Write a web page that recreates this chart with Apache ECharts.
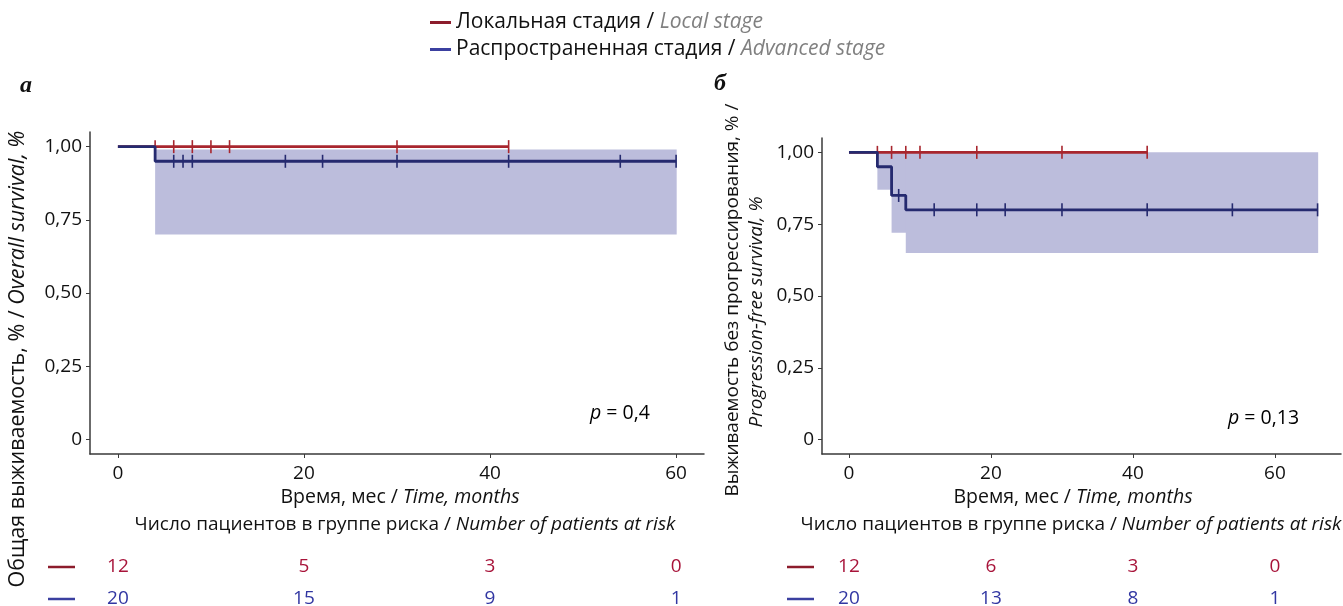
<!DOCTYPE html>
<html>
<head>
<meta charset="utf-8">
<script src="https://cdn.jsdelivr.net/npm/echarts@6/dist/echarts.min.js"></script>
<style>
  html, body { margin: 0; padding: 0; background: #fff; }
  #chart { width: 1343px; height: 606px; }
</style>
</head>
<body>
<div id="chart"></div>
<script>
// группы
var groupNames = ["Локальная стадия", "Распространенная стадия"];
var groupNamesEn = ["Local stage", "Advanced stage"];

// а — общая выживаемость
var osLocalTime = [0, 42];
var osLocalSurv = [1, 1];
var osLocalCens = [4, 6, 8, 10, 12, 30, 42];
var osAdvTime = [0, 4, 60];
var osAdvSurv = [1, 0.95, 0.95];
var osAdvCens = [6, 7, 8, 18, 22, 30, 42, 54, 60];
var osBandTime = [4, 60];
var osBandLow = [0.70, 0.70];
var osBandHigh = [0.99, 0.99];

// б — выживаемость без прогрессирования
var pfsLocalTime = [0, 42];
var pfsLocalSurv = [1, 1];
var pfsLocalCens = [4, 6, 8, 10, 18, 30, 42];
var pfsAdvTime = [0, 4, 6, 8, 66];
var pfsAdvSurv = [1, 0.95, 0.85, 0.80, 0.80];
var pfsAdvCens = [7, 12, 18, 22, 30, 42, 54, 66];
var pfsBandTime = [4, 6, 8, 66];
var pfsBandLow = [0.87, 0.72, 0.65, 0.65];
var pfsBandHigh = [1, 1, 1, 1];

// число пациентов в группе риска
var riskTimes = [0, 20, 40, 60];
var osRiskLocal = [12, 5, 3, 0];
var osRiskAdv = [20, 15, 9, 1];
var pfsRiskLocal = [12, 6, 3, 0];
var pfsRiskAdv = [20, 13, 8, 1];

var xTicks = [0, 20, 40, 60];
var yTicks = [0, 0.25, 0.5, 0.75, 1];

var FONT = "Open Sans";
var RED = "#a8262e", BLUE = "#252a6f", BAND = "#bcbddc";
var LEG_RED = "#8c1c2c", LEG_BLUE = "#3b40a0";
var RISK_RED = "#a8143a", RISK_BLUE = "#3136a2";
var GRAY = "#808080", AXIS = "#3a3a3a";

function zip(xs, ys) {
  return xs.map(function (x, i) { return [x, ys[i]]; });
}
function survAt(times, surv, t) {
  var v = surv[0];
  for (var i = 0; i < times.length; i++) if (times[i] <= t) v = surv[i];
  return v;
}
function censPoints(times, surv, cens) {
  return cens.map(function (t) { return [t, survAt(times, surv, t)]; });
}
// ступеньки доверительного интервала: [t0, t1, low, high]
function bandSteps(times, low, high) {
  var out = [];
  for (var i = 0; i < times.length - 1; i++) out.push([times[i], times[i + 1], low[i], high[i]]);
  return out;
}

function plotAxes(gi, xmin, xmax) {
  var x = {
    type: "value", gridIndex: gi, min: xmin, max: xmax,
    axisLine: { show: true, onZero: false, lineStyle: { color: AXIS, width: 1.5 } },
    axisTick: { show: true, customValues: xTicks, length: 4, lineStyle: { color: AXIS } },
    axisLabel: { customValues: xTicks, fontSize: 19, color: "#111", fontFamily: FONT, margin: 10 },
    splitLine: { show: false }
  };
  var y = {
    type: "value", gridIndex: gi, min: -0.05, max: 1.05,
    axisLine: { show: true, onZero: false, lineStyle: { color: AXIS, width: 1.5 } },
    axisTick: { show: true, customValues: yTicks, length: 4, lineStyle: { color: AXIS } },
    axisLabel: {
      customValues: yTicks, fontSize: 19, color: "#111", fontFamily: FONT, margin: 8,
      formatter: function (v) { return v === 0 ? "0" : v.toFixed(2).replace(".", ","); }
    },
    splitLine: { show: false }
  };
  return [x, y];
}
function riskAxes(gi, xmin, xmax) {
  return [
    { type: "value", gridIndex: gi, min: xmin, max: xmax, show: false },
    { type: "value", gridIndex: gi, min: 0, max: 2, show: false }
  ];
}

function kmSeries(ai, d) {
  var out = [];
  out.push({
    type: "custom", xAxisIndex: ai, yAxisIndex: ai, silent: true, z: 1,
    data: bandSteps(d.bandTime, d.bandLow, d.bandHigh),
    encode: { x: [0, 1], y: [2, 3] },
    renderItem: function (params, api) {
      var a = api.coord([api.value(0), api.value(3)]);
      var b = api.coord([api.value(1), api.value(2)]);
      return {
        type: "rect",
        shape: { x: a[0], y: a[1], width: b[0] - a[0] + 0.6, height: b[1] - a[1] },
        style: { fill: BAND }
      };
    }
  });
  out.push({
    name: groupNames[0], type: "line", xAxisIndex: ai, yAxisIndex: ai, step: "end", z: 3,
    data: zip(d.localTime, d.localSurv), symbol: "none", color: RED,
    lineStyle: { color: RED, width: 2.6 }
  });
  out.push({
    type: "scatter", xAxisIndex: ai, yAxisIndex: ai, z: 4, silent: true,
    data: censPoints(d.localTime, d.localSurv, d.localCens),
    symbol: "rect", symbolSize: [1.6, 13], itemStyle: { color: RED, opacity: 1 }
  });
  out.push({
    name: groupNames[1], type: "line", xAxisIndex: ai, yAxisIndex: ai, step: "end", z: 5,
    data: zip(d.advTime, d.advSurv), symbol: "none", color: BLUE,
    lineStyle: { color: BLUE, width: 2.8 }
  });
  out.push({
    type: "scatter", xAxisIndex: ai, yAxisIndex: ai, z: 6, silent: true,
    data: censPoints(d.advTime, d.advSurv, d.advCens),
    symbol: "rect", symbolSize: [1.6, 13], itemStyle: { color: BLUE, opacity: 1 }
  });
  return out;
}

function riskSeries(ai, local, adv) {
  function row(vals, yv, color) {
    return {
      type: "scatter", xAxisIndex: ai, yAxisIndex: ai, symbolSize: 0, silent: true,
      itemStyle: { opacity: 1 },
      data: riskTimes.map(function (t, i) { return [t, yv, vals[i]]; }),
      label: {
        show: true, position: "inside", color: color, fontSize: 19, fontFamily: FONT,
        opacity: 1, textBorderWidth: 0,
        formatter: function (p) { return String(p.value[2]); }
      }
    };
  }
  return [row(local, 1.5, RISK_RED), row(adv, 0.5, RISK_BLUE)];
}

var axA = plotAxes(0, -3, 63);
var axB = plotAxes(1, -3.8, 69.3);
var rkA = riskAxes(2, -3, 63);
var rkB = riskAxes(3, -3.8, 69.3);

var series = []
  .concat(kmSeries(0, {
    bandTime: osBandTime, bandLow: osBandLow, bandHigh: osBandHigh,
    localTime: osLocalTime, localSurv: osLocalSurv, localCens: osLocalCens,
    advTime: osAdvTime, advSurv: osAdvSurv, advCens: osAdvCens
  }))
  .concat(kmSeries(1, {
    bandTime: pfsBandTime, bandLow: pfsBandLow, bandHigh: pfsBandHigh,
    localTime: pfsLocalTime, localSurv: pfsLocalSurv, localCens: pfsLocalCens,
    advTime: pfsAdvTime, advSurv: pfsAdvSurv, advCens: pfsAdvCens
  }))
  .concat(riskSeries(2, osRiskLocal, osRiskAdv))
  .concat(riskSeries(3, pfsRiskLocal, pfsRiskAdv));

function rich(size) {
  return {
    a: { fontSize: size, color: "#111", fontFamily: FONT },
    b: { fontSize: size, color: GRAY, fontStyle: "italic", fontFamily: FONT },
    p: { fontSize: size, color: "#111", fontStyle: "italic", fontFamily: FONT }
  };
}

function txt(x, y, text, size, extra) {
  var o = {
    type: "text", x: x, y: y, silent: true,
    style: { text: text, rich: rich(size), align: "center", verticalAlign: "middle", font: size + "px " + FONT, fill: "#111" }
  };
  for (var k in extra) o[k] = extra[k];
  return o;
}
function dash(x, y, color) {
  return { type: "line", silent: true, shape: { x1: x, y1: y, x2: x + 27, y2: y }, style: { stroke: color, lineWidth: 2.5 } };
}

var graphic = [
  { type: "text", x: 26, y: 86, style: { text: "а", font: "italic bold 24px 'Liberation Serif'", fill: "#111", align: "center", verticalAlign: "middle" } },
  { type: "text", x: 720, y: 84, style: { text: "б", font: "italic bold 24px 'Liberation Serif'", fill: "#111", align: "center", verticalAlign: "middle" } },
  txt(18, 359, "{a|Общая выживаемость, % / }{b|Overall survival, %}", 21.5, { rotation: Math.PI / 2 }),
  txt(733, 300, "{a|Выживаемость без прогрессирования, % /}", 19, { rotation: Math.PI / 2 }),
  txt(757, 312, "{b|Progression-free survival, %}", 19, { rotation: Math.PI / 2 }),
  txt(400, 497, "{a|Время, мес / }{b|Time, months}", 19.5),
  txt(1073, 497, "{a|Время, мес / }{b|Time, months}", 19.5),
  txt(405, 525, "{a|Число пациентов в группе риска / }{b|Number of patients at risk}", 19),
  txt(1071, 525, "{a|Число пациентов в группе риска / }{b|Number of patients at risk}", 19),
  { type: "text", x: 590, y: 413, silent: true, style: { text: "{p|p}{a| = 0,4}", rich: rich(19.5), verticalAlign: "middle" } },
  { type: "text", x: 1228, y: 418, silent: true, style: { text: "{p|p}{a| = 0,13}", rich: rich(19.5), verticalAlign: "middle" } },
  dash(48, 567, LEG_RED), dash(48, 599, LEG_BLUE),
  dash(787, 567, LEG_RED), dash(787, 599, LEG_BLUE)
];

var chart = echarts.init(document.getElementById("chart"));
chart.setOption({
  backgroundColor: "#fff",
  animation: false,
  legend: {
    orient: "vertical", left: 425, top: 7, itemGap: 6, itemWidth: 21, itemHeight: 3, icon: "rect",
    data: [
      { name: groupNames[0], itemStyle: { color: LEG_RED } },
      { name: groupNames[1], itemStyle: { color: LEG_BLUE } }
    ],
    formatter: function (name) {
      return "{a|" + name + " / }{b|" + groupNamesEn[groupNames.indexOf(name)] + "}";
    },
    textStyle: {
      rich: {
        a: { fontSize: 21, color: "#111", fontFamily: FONT, lineHeight: 24 },
        b: { fontSize: 21, color: GRAY, fontStyle: "italic", fontFamily: FONT, lineHeight: 24 }
      }
    },
    selectedMode: false
  },
  grid: [
    { left: 90, top: 132, width: 614, height: 322, outerBoundsMode: "none" },
    { left: 822, top: 138, width: 519, height: 316, outerBoundsMode: "none" },
    { left: 90, top: 551, width: 614, height: 64, outerBoundsMode: "none" },
    { left: 822, top: 551, width: 519, height: 64, outerBoundsMode: "none" }
  ],
  xAxis: [axA[0], axB[0], rkA[0], rkB[0]],
  yAxis: [axA[1], axB[1], rkA[1], rkB[1]],
  series: series,
  graphic: graphic
});
</script>
</body>
</html>
